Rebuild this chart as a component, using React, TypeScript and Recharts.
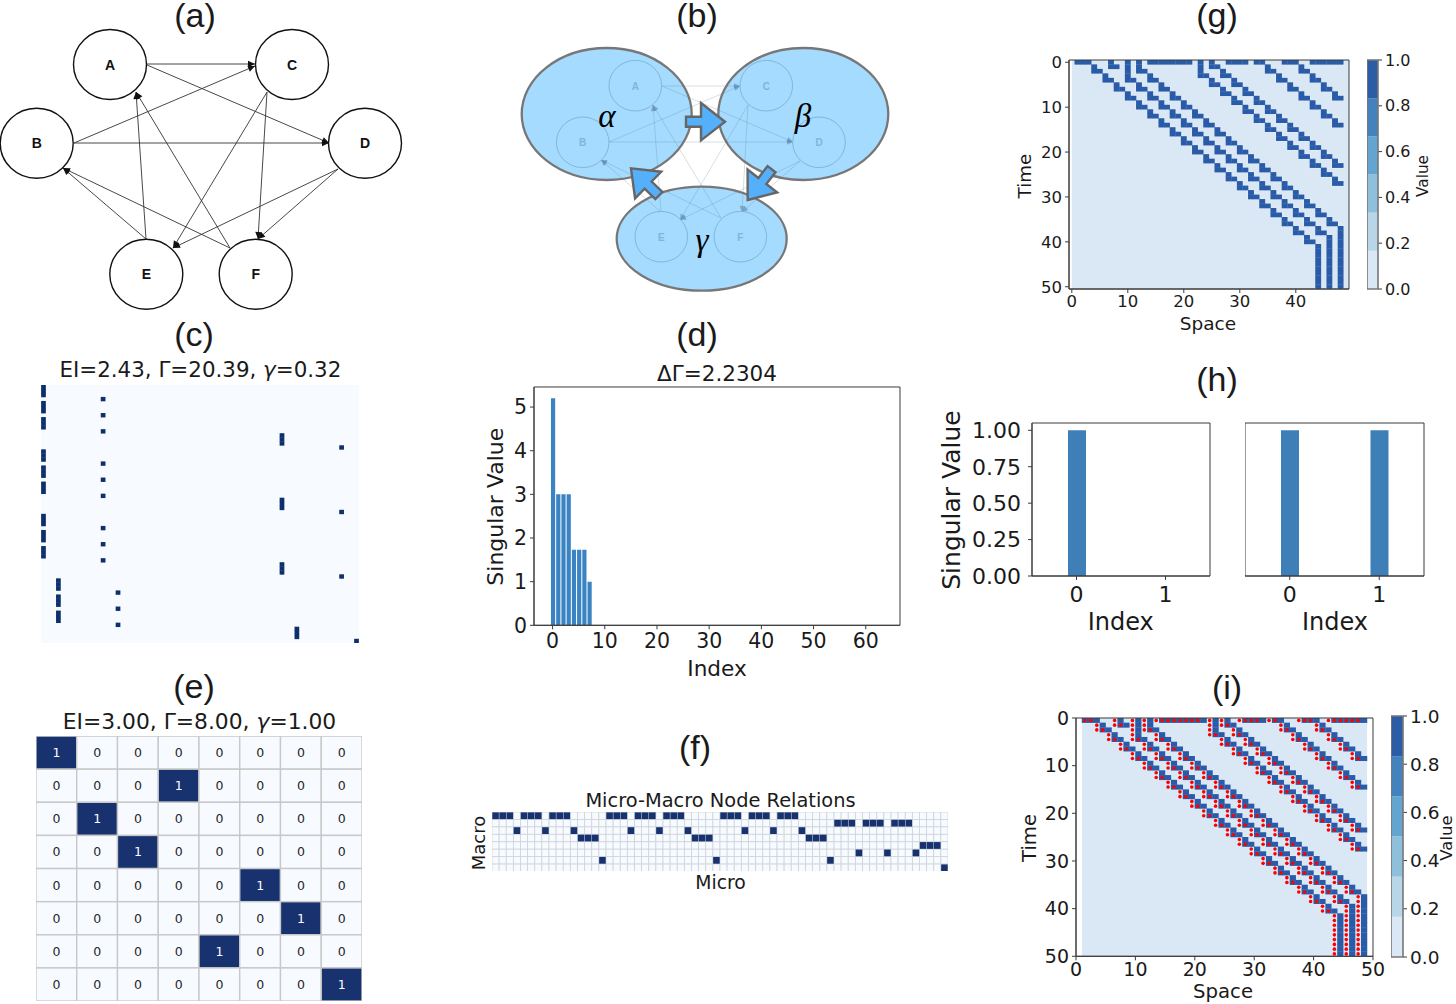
import * as React from "react";
import {
  BarChart,
  Bar,
  ScatterChart,
  Scatter,
  XAxis,
  YAxis,
  ReferenceArea,
} from "recharts";

const DEJAVU = '"DejaVu Sans"';
const ARIAL = '"Liberation Sans"';

// (a) network, coordinates in a 420x320 box
const nodeNames = ["A", "B", "C", "D", "E", "F"];
const nodeXs = [110, 36.7, 292, 365, 146.3, 255.7];
const nodeYs = [64.5, 143.3, 64.5, 143.3, 274.3, 274.3];
const edgesA = [
  [147, 64, 255, 64],
  [147, 65, 329, 143],
  [74, 143, 255, 66],
  [74, 143, 329, 143],
  [267, 92, 173, 248],
  [267, 92, 258, 239],
  [338, 169, 173, 248],
  [338, 169, 258, 239],
  [146, 239, 136, 92],
  [146, 239, 63, 168],
  [230, 248, 136, 92],
  [230, 248, 63, 168],
];

// (b) the same network drawn inside three macro nodes
const innerXs = [145.3, 92.7, 276.3, 329, 171.3, 250.3];
const innerYs = [85.7, 142.3, 85.7, 142.3, 236.7, 236.7];
const edgesB = [
  [172, 86, 250, 86],
  [172, 86, 303, 142],
  [119, 142, 250, 86],
  [119, 142, 303, 142],
  [258, 105, 190, 220],
  [258, 105, 252, 212],
  [310, 161, 190, 220],
  [310, 161, 252, 212],
  [171, 212, 163, 105],
  [171, 212, 111, 160],
  [231, 218, 163, 105],
  [231, 218, 111, 160],
];
const macroNames = ["α", "β", "γ"];
const macroXs = [116.7, 313.3, 211.7];
const macroYs = [114, 114, 238.7];
const macroRadiiY = [66, 66, 52];
const macroLabelXs = [117, 313, 212];
const macroLabelYs = [127, 127, 251];
const flowTipXs = [235, 141, 257.7];
const flowTipYs = [121.7, 168.3, 200];
const flowAngles = [0, -135.6, 127.7];

// (c) and (e) transition matrices
const microTpmCols = [
  0, 0, 0, 12, 0, 0, 0, 12, 0, 0, 0, 12, 48, 48, 48, 60,
  0, 0, 0, 12, 0, 0, 0, 12, 0, 0, 0, 12, 48, 48, 48, 60,
  0, 0, 0, 12, 0, 0, 0, 12, 0, 0, 0, 12, 48, 48, 48, 60,
  3, 3, 3, 15, 3, 3, 3, 15, 3, 3, 3, 15, 51, 51, 51, 63,
];
const macroTpm = [
  [1, 0, 0, 0, 0, 0, 0, 0],
  [0, 0, 0, 1, 0, 0, 0, 0],
  [0, 1, 0, 0, 0, 0, 0, 0],
  [0, 0, 1, 0, 0, 0, 0, 0],
  [0, 0, 0, 0, 0, 1, 0, 0],
  [0, 0, 0, 0, 0, 0, 1, 0],
  [0, 0, 0, 0, 1, 0, 0, 0],
  [0, 0, 0, 0, 0, 0, 0, 1],
];

// (d) and (h) singular value spectra
const spectrumD = [5.2, 3, 3, 3, 1.73, 1.73, 1.73, 1];
const spectrumD_ticks = [0, 10, 20, 30, 40, 50, 60];
const spectrumH1 = [1, 0];
const spectrumH2 = [1, 1];

// (f) macro node of every micro node
const macroOfMicro = [
  0, 0, 0, 2, 0, 0, 0, 2, 0, 0, 0, 2, 3, 3, 3, 6,
  0, 0, 0, 2, 0, 0, 0, 2, 0, 0, 0, 2, 3, 3, 3, 6,
  0, 0, 0, 2, 0, 0, 0, 2, 0, 0, 0, 2, 3, 3, 3, 6,
  1, 1, 1, 5, 1, 1, 1, 5, 1, 1, 1, 5, 4, 4, 4, 7,
];

// (g) and (i) space-time diagram: active columns of every time step
const activeCols = [
  [1, 2, 3, 7, 10, 12, 14, 15, 16, 17, 18, 19, 20, 21, 23, 25, 28, 29, 30, 31, 33, 34, 38, 39, 40, 43, 44, 45, 46, 47, 48],
  [4, 7, 8, 10, 12, 23, 25, 26, 35, 41],
  [4, 5, 10, 12, 13, 23, 27, 35, 36, 41, 42],
  [6, 10, 14, 23, 24, 27, 28, 37, 43],
  [6, 7, 10, 11, 14, 15, 25, 29, 37, 38, 43, 44],
  [8, 12, 16, 25, 26, 29, 30, 39, 45],
  [8, 9, 12, 13, 16, 17, 27, 31, 39, 40, 45, 46],
  [10, 14, 18, 27, 28, 31, 32, 41, 47],
  [10, 11, 14, 15, 18, 19, 29, 33, 41, 42, 47, 48],
  [12, 16, 20, 29, 30, 33, 34, 43],
  [12, 13, 16, 17, 20, 21, 31, 35, 43, 44],
  [14, 18, 22, 31, 32, 35, 36, 45],
  [14, 15, 18, 19, 22, 23, 33, 37, 45, 46],
  [16, 20, 24, 33, 34, 37, 38, 47],
  [16, 17, 20, 21, 24, 25, 35, 39, 47, 48],
  [18, 22, 26, 35, 36, 39, 40],
  [18, 19, 22, 23, 26, 27, 37, 41],
  [20, 24, 28, 37, 38, 41, 42],
  [20, 21, 24, 25, 28, 29, 39, 43],
  [22, 26, 30, 39, 40, 43, 44],
  [22, 23, 26, 27, 30, 31, 41, 45],
  [24, 28, 32, 41, 42, 45, 46],
  [24, 25, 28, 29, 32, 33, 43, 47],
  [26, 30, 34, 43, 44, 47, 48],
  [26, 27, 30, 31, 34, 35, 45],
  [28, 32, 36, 45, 46],
  [28, 29, 32, 33, 36, 37, 47],
  [30, 34, 38, 47, 48],
  [30, 31, 34, 35, 38, 39],
  [32, 36, 40],
  [32, 33, 36, 37, 40, 41],
  [34, 38, 42],
  [34, 35, 38, 39, 42, 43],
  [36, 40, 44],
  [36, 37, 40, 41, 44, 45],
  [38, 42, 46],
  [38, 39, 42, 43, 46, 47],
  [40, 44, 48],
  [40, 41, 44, 45, 48],
  [42, 46, 48],
  [42, 43, 46, 48],
  [44, 46, 48],
  [44, 46, 48],
  [44, 46, 48],
  [44, 46, 48],
  [44, 46, 48],
  [44, 46, 48],
  [44, 46, 48],
  [44, 46, 48],
  [44, 46, 48],
  [44, 46, 48],
];

// red markers of (i)
const markedCols = [
  [1, 2, 6, 9, 11, 13, 14, 15, 16, 17, 18, 19, 20, 22, 24, 27, 28, 29, 30, 32, 33, 37, 38, 39, 42, 43, 44, 45, 46, 47],
  [3, 6, 7, 9, 11, 22, 24, 25, 34, 40],
  [3, 4, 9, 11, 12, 22, 26, 34, 35, 40, 41],
  [5, 9, 13, 22, 23, 26, 27, 36, 42],
  [5, 6, 9, 10, 13, 14, 24, 28, 36, 37, 42, 43],
  [7, 11, 15, 24, 25, 28, 29, 38, 44],
  [7, 8, 11, 12, 15, 16, 26, 30, 38, 39, 44, 45],
  [9, 13, 17, 26, 27, 30, 31, 40, 46],
  [9, 10, 13, 14, 17, 18, 28, 32, 40, 41, 46, 47],
  [11, 15, 19, 28, 29, 32, 33, 42],
  [11, 12, 15, 16, 19, 20, 30, 34, 42, 43],
  [13, 17, 21, 30, 31, 34, 35, 44],
  [13, 14, 17, 18, 21, 22, 32, 36, 44, 45],
  [15, 19, 23, 32, 33, 36, 37, 46],
  [15, 16, 19, 20, 23, 24, 34, 38, 46, 47],
  [17, 21, 25, 34, 35, 38, 39],
  [17, 18, 21, 22, 25, 26, 36, 40],
  [19, 23, 27, 36, 37, 40, 41],
  [19, 20, 23, 24, 27, 28, 38, 42],
  [21, 25, 29, 38, 39, 42, 43],
  [21, 22, 25, 26, 29, 30, 40, 44],
  [23, 27, 31, 40, 41, 44, 45],
  [23, 24, 27, 28, 31, 32, 42, 46],
  [25, 29, 33, 42, 43, 46, 47],
  [25, 26, 29, 30, 33, 34, 44],
  [27, 31, 35, 44, 45],
  [27, 28, 31, 32, 35, 36, 46],
  [29, 33, 37, 46, 47],
  [29, 30, 33, 34, 37, 38],
  [31, 35, 39],
  [31, 32, 35, 36, 39, 40],
  [33, 37, 41],
  [33, 34, 37, 38, 41, 42],
  [35, 39, 43],
  [35, 36, 39, 40, 43, 44],
  [37, 41, 45],
  [37, 38, 41, 42, 45, 46],
  [39, 43, 47],
  [39, 40, 43, 44, 47],
  [41, 45, 47],
  [41, 42, 45, 47],
  [43, 45, 47],
  [43, 45, 47],
  [43, 45, 47],
  [43, 45, 47],
  [43, 45, 47],
  [43, 45, 47],
  [43, 45, 47],
  [43, 45, 47],
  [43, 45, 47],
];

const colorbarTicks = [0, 0.2, 0.4, 0.6, 0.8, 1];
const colorbarColors = ["#d9e8f4", "#b9d6e9", "#8ebfdb", "#64a4d0", "#4382bd", "#2d5ca7"];
const colorbarBins = [1 / 6, 1 / 6, 1 / 6, 1 / 6, 1 / 6, 1 / 6];
const tenStepTicks = [0, 10, 20, 30, 40];
const fullTenStepTicks = [0, 10, 20, 30, 40, 50];

const PAD_L = 80;
const PAD_T = 14;
const PAD_R = 20;
const PAD_B = 50;
const LINE = "#3a3a3a";
const HEAT_BG = "#d9e8f4";
const HEAT_ON = "#2a5ba8";
const DARK = "#17326f";
const PALE = "#f7fbff";

function cellPoints(rows) {
  return rows.flatMap((cols, row) => cols.map((col) => ({ x: col, y: row })));
}

function cellShape(w, h, fill, stroke = "none", strokeWidth = 0) {
  return (p) => (
    <rect
      x={p.cx - w / 2}
      y={p.cy - h / 2}
      width={w}
      height={h}
      fill={fill}
      stroke={stroke}
      strokeWidth={strokeWidth}
    />
  );
}

function Caption({ x, y, size, font = DEJAVU, rotate = false, children }) {
  return (
    <text
      x={x}
      y={y}
      textAnchor="middle"
      fontSize={size}
      fontFamily={font}
      fill="#1a1a1a"
      transform={rotate ? `rotate(-90 ${x} ${y})` : undefined}
    >
      {children}
    </text>
  );
}

function Place({ x, y, children }) {
  return <div style={{ position: "absolute", left: x, top: y }}>{children}</div>;
}

function PlainGrid({ x, y, w, h, xDomain, yDomain, children }) {
  return (
    <Place x={x} y={y}>
      <ScatterChart width={w} height={h} margin={{ top: 0, right: 0, bottom: 0, left: 0 }}>
        <XAxis type="number" dataKey="x" domain={xDomain} hide allowDataOverflow />
        <YAxis type="number" dataKey="y" domain={yDomain} reversed hide allowDataOverflow />
        {children}
      </ScatterChart>
    </Place>
  );
}

function arrowHead(size, half, fill) {
  return (p) => (
    <polygon
      points={`0,0 ${-size},${-half} ${-size},${half}`}
      transform={`translate(${p.cx} ${p.cy}) rotate(${p.payload.angle})`}
      fill={fill}
    />
  );
}

const noPoint = () => <g />;

function Edges({ edges, stroke, width, size, half, headFill }) {
  return (
    <>
      {edges.map((e, i) => (
        <Scatter
          key={i}
          data={[
            { x: e[0], y: e[1] },
            { x: e[2], y: e[3] },
          ]}
          line={{ stroke, strokeWidth: width }}
          shape={noPoint}
          isAnimationActive={false}
        />
      ))}
      <Scatter
        data={edges.map((e) => ({
          x: e[2],
          y: e[3],
          angle: (Math.atan2(e[3] - e[1], e[2] - e[0]) * 180) / Math.PI,
        }))}
        shape={arrowHead(size, half, headFill)}
        isAnimationActive={false}
      />
    </>
  );
}

function NetworkA() {
  const nodes = nodeNames.map((name, i) => ({ name, x: nodeXs[i], y: nodeYs[i] }));
  return (
    <PlainGrid x={0} y={0} w={420} h={320} xDomain={[0, 420]} yDomain={[0, 320]}>
      <Edges edges={edgesA} stroke="#333" width={0.9} size={7} half={3.2} headFill="#111" />
      <Scatter
        data={nodes}
        isAnimationActive={false}
        shape={(p) => (
          <g>
            <ellipse cx={p.cx} cy={p.cy} rx={36.5} ry={35} fill="none" stroke="#111" strokeWidth={1.4} />
            <text
              x={p.cx}
              y={p.cy + 5}
              textAnchor="middle"
              fontFamily={ARIAL}
              fontWeight="bold"
              fontSize={14}
              fill="#111"
            >
              {p.payload.name}
            </text>
          </g>
        )}
      />
    </PlainGrid>
  );
}

function NetworkB() {
  const macros = macroNames.map((name, i) => ({ name, x: macroXs[i], y: macroYs[i], ry: macroRadiiY[i] }));
  const labels = macroNames.map((name, i) => ({ name, x: macroLabelXs[i], y: macroLabelYs[i] }));
  const inner = nodeNames.map((name, i) => ({ name, x: innerXs[i], y: innerYs[i] }));
  const flows = flowAngles.map((angle, i) => ({ angle, x: flowTipXs[i], y: flowTipYs[i] }));
  return (
    <PlainGrid x={490} y={0} w={420} h={320} xDomain={[0, 420]} yDomain={[0, 320]}>
      <Scatter
        data={macros}
        isAnimationActive={false}
        shape={(p) => (
          <ellipse cx={p.cx} cy={p.cy} rx={85} ry={p.payload.ry} fill="#a4dbff" stroke="#777" strokeWidth={2.3} />
        )}
      />
      <Edges
        edges={edgesB}
        stroke="rgba(90,115,140,0.27)"
        width={0.9}
        size={6}
        half={2.8}
        headFill="rgba(90,130,170,0.55)"
      />
      <Scatter
        data={inner}
        isAnimationActive={false}
        shape={(p) => (
          <g>
            <ellipse cx={p.cx} cy={p.cy} rx={26.3} ry={25.3} fill="none" stroke="#84b6d8" strokeWidth={1} />
            <text
              x={p.cx}
              y={p.cy + 4}
              textAnchor="middle"
              fontFamily={ARIAL}
              fontWeight="bold"
              fontSize={10}
              fill="#83b4d6"
            >
              {p.payload.name}
            </text>
          </g>
        )}
      />
      <Scatter
        data={flows}
        isAnimationActive={false}
        shape={(p) => (
          <polygon
            points="0,0 -24,-18.7 -24,-5 -39,-5 -39,5 -24,5 -24,18.7"
            transform={`translate(${p.cx} ${p.cy}) rotate(${p.payload.angle})`}
            fill="#55b0fb"
            stroke="#666"
            strokeWidth={2.4}
          />
        )}
      />
      <Scatter
        data={labels}
        isAnimationActive={false}
        shape={(p) => (
          <text
            x={p.cx}
            y={p.cy}
            textAnchor="middle"
            fontFamily='"Liberation Serif"'
            fontStyle="italic"
            fontSize={33}
            fill="#000"
          >
            {p.payload.name}
          </text>
        )}
      />
    </PlainGrid>
  );
}

function MicroTpm() {
  const points = microTpmCols.map((col, row) => ({ x: col + 0.5, y: row + 0.5 }));
  return (
    <PlainGrid x={41} y={385} w={318} h={258} xDomain={[0, 64]} yDomain={[0, 64]}>
      <ReferenceArea x1={0} x2={64} y1={0} y2={64} fill={PALE} fillOpacity={1} stroke="none" />
      <Scatter data={points} shape={cellShape(4.7, 4.4, "#0d2f6c")} isAnimationActive={false} />
    </PlainGrid>
  );
}

function MacroTpm() {
  const points = macroTpm.flatMap((row, r) => row.map((v, c) => ({ x: c + 0.5, y: r + 0.5, v })));
  return (
    <PlainGrid x={36} y={736} w={326} h={265} xDomain={[0, 8]} yDomain={[0, 8]}>
      <Scatter
        data={points}
        isAnimationActive={false}
        shape={(p) => (
          <g>
            <rect
              x={p.cx - 20.4}
              y={p.cy - 16.5}
              width={40.8}
              height={33.1}
              fill={p.payload.v ? "#17326f" : PALE}
              stroke="#c8c8c8"
              strokeWidth={1.4}
            />
            <text
              x={p.cx}
              y={p.cy + 4.5}
              textAnchor="middle"
              fontFamily={DEJAVU}
              fontSize={12.5}
              fill={p.payload.v ? "#fff" : "#262626"}
            >
              {p.payload.v}
            </text>
          </g>
        )}
      />
    </PlainGrid>
  );
}

function NodeRelations() {
  const grid = [];
  for (let r = 0; r < 8; r++) for (let c = 0; c < 64; c++) grid.push({ x: c + 0.5, y: r + 0.5 });
  const points = macroOfMicro.map((row, col) => ({ x: col + 0.5, y: row + 0.5 }));
  return (
    <PlainGrid x={492} y={811.5} w={456} h={59.5} xDomain={[0, 64]} yDomain={[0, 8]}>
      <Scatter data={grid} shape={cellShape(7.125, 7.44, PALE, "#cdd4d9", 0.8)} isAnimationActive={false} />
      <Scatter data={points} shape={cellShape(6.6, 6.8, DARK)} isAnimationActive={false} />
    </PlainGrid>
  );
}

const tickStyle = (size) => ({ fill: "#1a1a1a", fontFamily: DEJAVU, fontSize: size });

function Colorbar({ x, y, w, h, size }) {
  const row = { name: "Value" };
  colorbarBins.forEach((b, i) => (row["level" + i] = b));
  return (
    <Place x={x} y={y - PAD_T}>
      <BarChart
        width={w + 60}
        height={h + PAD_T + 14}
        data={[row]}
        barCategoryGap={0}
        margin={{ top: PAD_T, right: 0, left: 0, bottom: 14 }}
      >
        <XAxis dataKey="name" hide />
        <YAxis
          orientation="right"
          width={60}
          type="number"
          domain={[0, 1]}
          ticks={colorbarTicks}
          interval={0}
          tickFormatter={(v) => v.toFixed(1)}
          tick={tickStyle(size)}
          tickLine={{ stroke: LINE }}
          axisLine={false}
          tickSize={4}
          tickMargin={3}
        />
        {colorbarColors.map((c, i) => (
          <Bar key={c} dataKey={"level" + i} stackId="v" fill={c} isAnimationActive={false} />
        ))}
        <ReferenceArea y1={0} y2={1} fill="none" stroke="#777" strokeWidth={1.6} zIndex={1000} />
      </BarChart>
    </Place>
  );
}

function SpaceTime({ x, y, w, h, xDomain, yDomain, bg, xTicks, offset, cellW, cellH, size, marks }) {
  const cells = cellPoints(activeCols)
    .filter((p) => p.y + offset < yDomain[1])
    .map((p) => ({ x: p.x + offset, y: p.y + offset }));
  const redDots = marks ? cellPoints(marks).map((p) => ({ x: p.x + offset, y: p.y + offset })) : [];
  return (
    <Place x={x - PAD_L} y={y - PAD_T}>
      <ScatterChart
        width={w + PAD_L + PAD_R}
        height={h + PAD_T + PAD_B}
        margin={{ top: PAD_T, right: PAD_R, left: 0, bottom: 0 }}
      >
        <XAxis
          type="number"
          dataKey="x"
          domain={xDomain}
          ticks={xTicks}
          interval={0}
          height={PAD_B}
          tick={tickStyle(size)}
          tickLine={{ stroke: LINE }}
          axisLine={{ stroke: LINE }}
          tickSize={4}
          tickMargin={2}
          allowDataOverflow
        />
        <YAxis
          type="number"
          dataKey="y"
          domain={yDomain}
          reversed
          ticks={fullTenStepTicks}
          interval={0}
          width={PAD_L}
          tick={tickStyle(size)}
          tickLine={{ stroke: LINE }}
          axisLine={{ stroke: LINE }}
          tickSize={4}
          tickMargin={3}
          allowDataOverflow
        />
        <ReferenceArea x1={bg[0]} x2={bg[1]} y1={yDomain[0]} y2={yDomain[1]} fill={HEAT_BG} fillOpacity={1} stroke="none" />
        <Scatter data={cells} shape={cellShape(cellW + 1, cellH + 1, "#eef5fb")} isAnimationActive={false} />
        <Scatter data={cells} shape={cellShape(cellW + 0.3, cellH + 0.3, HEAT_ON)} isAnimationActive={false} />
        {marks ? (
          <Scatter
            data={redDots}
            shape={(p) => <circle cx={p.cx} cy={p.cy} r={1.8} fill="#ff0000" />}
            isAnimationActive={false}
          />
        ) : null}
        <ReferenceArea y1={yDomain[0]} y2={yDomain[1]} fill="none" stroke={LINE} strokeWidth={1} zIndex={1000} />
      </ScatterChart>
    </Place>
  );
}

function Spectrum({ x, y, w, h, values, xDomain, xTicks, yDomain, yTicks, yFormat, barSize, fill, size, showY, xGap, yGap }) {
  const data = values.map((value, index) => ({ index, value }));
  const padL = showY ? PAD_L : 0;
  return (
    <Place x={x - padL} y={y - PAD_T}>
      <BarChart
        width={w + padL + PAD_R}
        height={h + PAD_T + PAD_B}
        data={data}
        margin={{ top: PAD_T, right: PAD_R, left: 0, bottom: 0 }}
      >
        <XAxis
          type="number"
          dataKey="index"
          domain={xDomain}
          ticks={xTicks}
          interval={0}
          height={PAD_B}
          tick={tickStyle(size)}
          tickLine={{ stroke: LINE }}
          axisLine={{ stroke: LINE }}
          tickSize={4}
          tickMargin={xGap}
          allowDataOverflow
        />
        <YAxis
          type="number"
          domain={yDomain}
          ticks={yTicks}
          interval={0}
          hide={!showY}
          width={padL}
          tickFormatter={yFormat}
          tick={tickStyle(size)}
          tickLine={{ stroke: LINE }}
          axisLine={{ stroke: LINE }}
          tickSize={4}
          tickMargin={yGap}
          allowDataOverflow
        />
        <Bar dataKey="value" fill={fill} barSize={barSize} isAnimationActive={false} />
        <ReferenceArea y1={yDomain[0]} y2={yDomain[1]} fill="none" stroke={LINE} strokeWidth={1} zIndex={1000} />
      </BarChart>
    </Place>
  );
}

export default function App() {
  return (
    <div style={{ position: "absolute", left: 0, top: 0, width: 1456, height: 1004, overflow: "hidden", background: "#fff" }}>
      <NetworkA />
      <NetworkB />
      <MicroTpm />
      <MacroTpm />
      <NodeRelations />

      <SpaceTime
        x={1069} y={60} w={280} h={229}
        xDomain={[-0.5, 49.5]} yDomain={[-0.5, 50.5]} bg={[0, 49.5]}
        xTicks={tenStepTicks} offset={0} cellW={5.62} cellH={4.51} size={16.5}
      />
      <Colorbar x={1367} y={60} w={11} h={229} size={16} />

      <SpaceTime
        x={1075.7} y={717.7} w={297} h={238.3}
        xDomain={[0, 50]} yDomain={[0, 50]} bg={[1, 49]}
        xTicks={fullTenStepTicks} offset={0.5} cellW={5.94} cellH={4.77} size={19} marks={markedCols}
      />
      <Colorbar x={1391} y={716} w={12} h={241} size={18.5} />

      <Spectrum
        x={534} y={386.7} w={366} h={238.3}
        values={spectrumD} xDomain={[-3.56, 66.56]} xTicks={spectrumD_ticks}
        yDomain={[0, 5.46]} yTicks={[0, 1, 2, 3, 4, 5]} barSize={4.2} fill="#3a84c4" size={20.5} showY
        xGap={4} yGap={3}
      />
      <Spectrum
        x={1032} y={422.7} w={178} h={153}
        values={spectrumH1} xDomain={[-0.5, 1.5]} xTicks={[0, 1]}
        yDomain={[0, 1.05]} yTicks={[0, 0.25, 0.5, 0.75, 1]} yFormat={(v) => v.toFixed(2)}
        barSize={18} fill="#3f7fb7" size={22} showY xGap={6} yGap={7}
      />
      <Spectrum
        x={1245.3} y={422.7} w={179} h={153}
        values={spectrumH2} xDomain={[-0.5, 1.5]} xTicks={[0, 1]}
        yDomain={[0, 1.05]} yTicks={[0, 0.25, 0.5, 0.75, 1]}
        barSize={18} fill="#3f7fb7" size={22} showY={false} xGap={6} yGap={7}
      />

      <svg width={1456} height={1004} style={{ position: "absolute", left: 0, top: 0, pointerEvents: "none" }}>
        <Caption x={195} y={27} size={34} font={ARIAL}>(a)</Caption>
        <Caption x={697} y={27} size={34} font={ARIAL}>(b)</Caption>
        <Caption x={194} y={346} size={34} font={ARIAL}>(c)</Caption>
        <Caption x={697} y={346} size={34} font={ARIAL}>(d)</Caption>
        <Caption x={194} y={698} size={34} font={ARIAL}>(e)</Caption>
        <Caption x={695} y={759} size={34} font={ARIAL}>(f)</Caption>
        <Caption x={1217} y={27} size={34} font={ARIAL}>(g)</Caption>
        <Caption x={1217} y={391} size={34} font={ARIAL}>(h)</Caption>
        <Caption x={1227} y={699} size={34} font={ARIAL}>(i)</Caption>

        <Caption x={200.4} y={377} size={21.4}>EI=2.43, Γ=20.39, <tspan fontStyle="italic">γ</tspan>=0.32</Caption>
        <Caption x={199.5} y={729} size={21.8}>EI=3.00, Γ=8.00, <tspan fontStyle="italic">γ</tspan>=1.00</Caption>
        <Caption x={717} y={381} size={21.5}>ΔΓ=2.2304</Caption>
        <Caption x={720.5} y={807} size={19.4}>Micro-Macro Node Relations</Caption>
        <Caption x={720.5} y={889} size={18.8}>Micro</Caption>
        <Caption x={485} y={843} size={18} rotate>Macro</Caption>

        <Caption x={502.7} y={506.7} size={22} rotate>Singular Value</Caption>
        <Caption x={717} y={676} size={21.6}>Index</Caption>
        <Caption x={960} y={500} size={25} rotate>Singular Value</Caption>
        <Caption x={1120.7} y={630} size={24}>Index</Caption>
        <Caption x={1335} y={630} size={24}>Index</Caption>

        <Caption x={1030.7} y={176} size={18.3} rotate>Time</Caption>
        <Caption x={1208} y={330} size={18.5}>Space</Caption>
        <Caption x={1427.7} y={176} size={15.3} rotate>Value</Caption>

        <Caption x={1036} y={838} size={19.6} rotate>Time</Caption>
        <Caption x={1223} y={998} size={19.7}>Space</Caption>
        <Caption x={1452} y={838} size={16.5} rotate>Value</Caption>
      </svg>
    </div>
  );
}
